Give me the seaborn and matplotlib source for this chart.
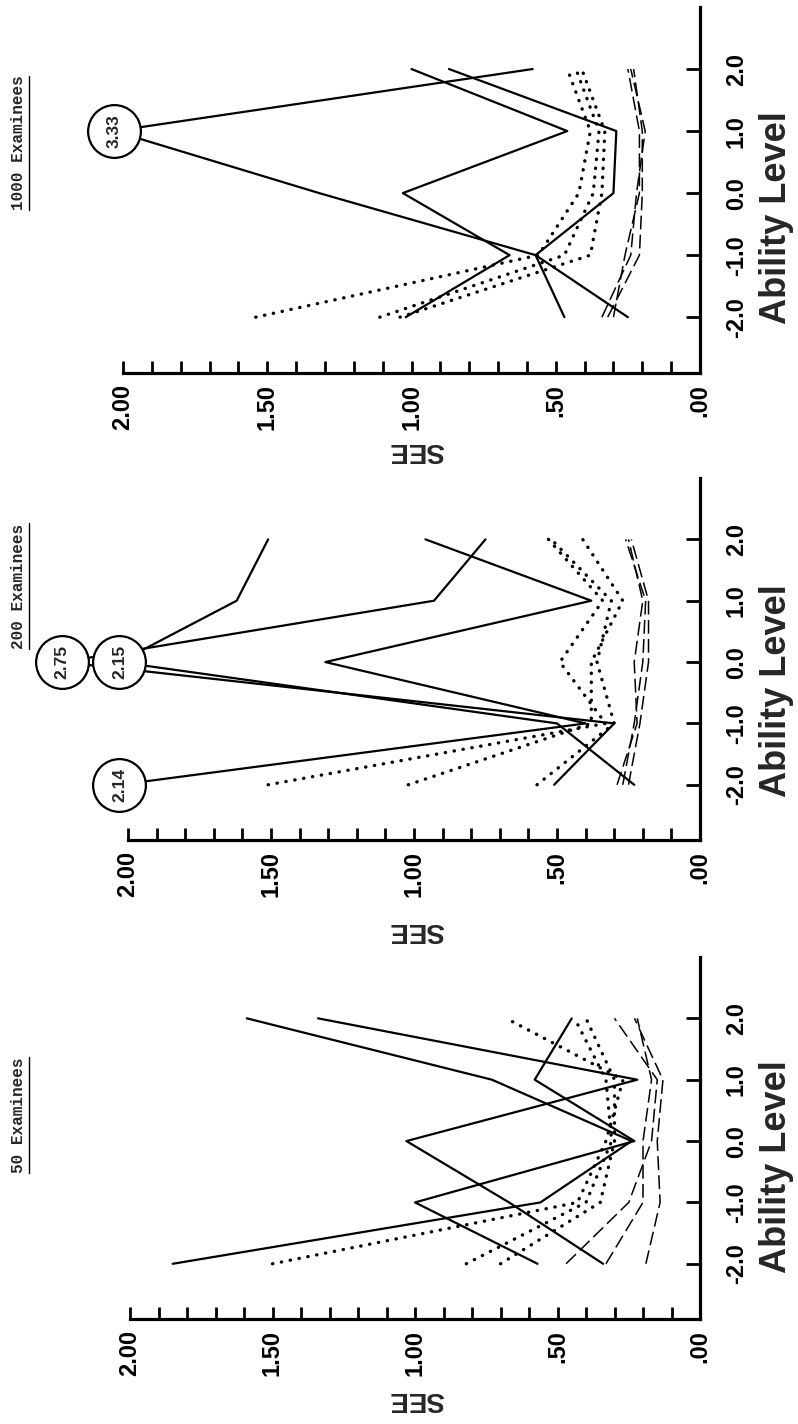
import numpy as np
import pandas as pd
import matplotlib
matplotlib.use("Agg")
import matplotlib.pyplot as plt
import seaborn as sns
from matplotlib.ticker import FixedLocator, MultipleLocator, NullLocator
from matplotlib.lines import Line2D

# ---------------- data ----------------
ABILITY = [-2.0, -1.0, 0.0, 1.0, 2.0]
ABILITY_LABELS = ["-2.0", "-1.0", "0.0", "1.0", "2.0"]
SEE_TICKS = [0.0, 0.5, 1.0, 1.5, 2.0]
SEE_LABELS = [".00", ".50", "1.00", "1.50", "2.00"]

# 1000 examinees
T_SOLID_1 = [1.02, 0.66, 1.03, 0.46, 1.00]
T_SOLID_2 = [0.47, 0.57, 1.32, 3.33, 0.58]
T_SOLID_3 = [0.25, 0.57, 0.30, 0.29, 0.87]
T_DOT_1 = [1.54, 0.56, 0.42, 0.38, 0.46]
T_DOT_2 = [1.11, 0.47, 0.37, 0.35, 0.43]
T_DOT_3 = [1.04, 0.38, 0.34, 0.33, 0.41]
T_DASH_1 = [0.34, 0.24, 0.22, 0.19, 0.24]
T_DASH_2 = [0.32, 0.21, 0.20, 0.20, 0.23]
T_DASH_3 = [0.30, 0.26, 0.21, 0.21, 0.25]

# 200 examinees
M_SOLID_1 = [0.51, 0.30, 2.75, 0.93, 0.75]
M_SOLID_2 = [0.23, 0.50, 2.15, 1.62, 1.51]
M_SOLID_3 = [2.14, 0.40, 1.31, 0.38, 0.96]
M_DOT_1 = [1.51, 0.33, 0.49, 0.34, 0.53]
M_DOT_2 = [1.02, 0.38, 0.38, 0.27, 0.41]
M_DOT_3 = [0.57, 0.30, 0.36, 0.31, 0.52]
M_DASH_1 = [0.29, 0.22, 0.23, 0.20, 0.25]
M_DASH_2 = [0.25, 0.21, 0.18, 0.18, 0.24]
M_DASH_3 = [0.27, 0.23, 0.20, 0.19, 0.26]

# 50 examinees
B_SOLID_1 = [1.85, 0.56, 0.24, 0.73, 1.59]
B_SOLID_2 = [0.34, 0.67, 1.03, 0.22, 1.34]
B_SOLID_3 = [0.57, 1.00, 0.23, 0.58, 0.45]
B_DOT_1 = [1.50, 0.43, 0.33, 0.27, 0.68]
B_DOT_2 = [0.82, 0.40, 0.31, 0.33, 0.44]
B_DOT_3 = [0.70, 0.35, 0.30, 0.30, 0.40]
B_DASH_1 = [0.47, 0.25, 0.17, 0.15, 0.30]
B_DASH_2 = [0.19, 0.14, 0.15, 0.13, 0.23]
B_DASH_3 = [0.33, 0.20, 0.20, 0.17, 0.22]

# ---------------- style ----------------
sns.set_style("white")
plt.rcParams["font.family"] = ["Liberation Sans", "DejaVu Sans"]

W, H = 798, 1424
fig = plt.figure(figsize=(W / 100, H / 100), dpi=100)
fig.patch.set_facecolor("white")

STYLES = {
    "solid": dict(linestyle="-", lw=1.6),
    "dot": dict(linestyle=(0, (0.1, 2.6)), lw=2.4, dash_capstyle="round"),
    "dash": dict(linestyle=(0, (9, 3.5)), lw=1.1),
}

panels = [
    dict(title="1000 Examinees", box=(123, 700, 7, 373), title_y=143, abil_y=218, see_y=450,
         series=[(T_SOLID_1, "solid"), (T_SOLID_2, "solid"), (T_SOLID_3, "solid"),
                 (T_DOT_1, "dot"), (T_DOT_2, "dot"), (T_DOT_3, "dot"),
                 (T_DASH_1, "dash"), (T_DASH_2, "dash"), (T_DASH_3, "dash")]),
    dict(title="200 Examinees", box=(128, 700, 478, 840), title_y=586, abil_y=691, see_y=930,
         series=[(M_SOLID_1, "solid"), (M_SOLID_2, "solid"), (M_SOLID_3, "solid"),
                 (M_DOT_1, "dot"), (M_DOT_2, "dot"), (M_DOT_3, "dot"),
                 (M_DASH_1, "dash"), (M_DASH_2, "dash"), (M_DASH_3, "dash")]),
    dict(title="50 Examinees", box=(130, 700, 957, 1319), title_y=1115, abil_y=1167, see_y=1399,
         series=[(B_SOLID_1, "solid"), (B_SOLID_2, "solid"), (B_SOLID_3, "solid"),
                 (B_DOT_1, "dot"), (B_DOT_2, "dot"), (B_DOT_3, "dot"),
                 (B_DASH_1, "dash"), (B_DASH_2, "dash"), (B_DASH_3, "dash")]),
]

OFF_START = 2.03   # where off-scale values are drawn (circled)
OFF_STEP = 0.20

title_texts = []
for p in panels:
    l, r, t, b = p["box"]
    ax = fig.add_axes([l / W, 1 - b / H, (r - l) / W, (b - t) / H])
    ax.set_facecolor("none")

    # positions for off-scale values
    off = {}
    for vals, _ in p["series"]:
        for a, v in zip(ABILITY, vals):
            if v > 2.0:
                off.setdefault(a, []).append(v)
    off_pos = {}
    for a, vs in off.items():
        for i, v in enumerate(sorted(vs)):
            off_pos[(a, v)] = OFF_START + i * OFF_STEP

    for vals, kind in p["series"]:
        plotted = [off_pos[(a, v)] if v > 2.0 else v for a, v in zip(ABILITY, vals)]
        df = pd.DataFrame({"SEE": plotted, "Ability": ABILITY})
        sns.lineplot(data=df, x="SEE", y="Ability", orient="y", sort=False,
                     estimator=None, color="black", ax=ax, legend=False)
        ln = ax.lines[-1]
        st = STYLES[kind]
        ln.set_linestyle(st["linestyle"])
        ln.set_linewidth(st["lw"])
        if "dash_capstyle" in st:
            ln.set_dash_capstyle(st["dash_capstyle"])
        ln.set_clip_on(False)
        ln.set_zorder(3)

    for (a, v), x in off_pos.items():
        ax.plot([x], [a], marker="o", ms=38, mfc="white", mec="black", mew=1.6,
                clip_on=False, zorder=5, ls="none")
        ax.text(x, a, f"{v:.2f}", rotation=90, ha="center", va="center",
                fontsize=12.5, fontweight="bold", zorder=6, clip_on=False)

    ax.set_xlim(2.0, 0.0)
    ax.set_ylim(-2.9, 3.0)
    ax.set_xlabel("")
    ax.set_ylabel("")

    for s in ["top", "left"]:
        ax.spines[s].set_visible(False)
    for s in ["right", "bottom"]:
        ax.spines[s].set_linewidth(2.3)
        ax.spines[s].set_color("black")

    ax.xaxis.set_major_locator(FixedLocator(SEE_TICKS))
    ax.xaxis.set_minor_locator(MultipleLocator(0.1))
    ax.set_xticklabels(SEE_LABELS, rotation=90, fontsize=17, fontweight="bold")
    ax.tick_params(axis="x", which="both", direction="in", length=9, width=2,
                   pad=8, bottom=True, top=False, colors="black")

    ax.yaxis.tick_right()
    ax.yaxis.set_minor_locator(NullLocator())
    ax.set_yticks(ABILITY)
    ax.set_yticklabels(ABILITY_LABELS, rotation=90, fontsize=17, fontweight="bold",
                       va="center")
    ax.tick_params(axis="y", which="both", direction="in", length=10, width=2,
                   pad=18, right=True, left=False, colors="black")
    ax.grid(False)

    fig.text(777 / W, 1 - p["abil_y"] / H, "Ability Level", rotation=90,
             ha="center", va="center", fontsize=26, fontweight="bold")
    fig.text(416 / W, 1 - p["see_y"] / H, "SEE", rotation=180,
             ha="center", va="center", fontsize=20, fontweight="bold")
    tt = fig.text(19 / W, 1 - p["title_y"] / H, p["title"], rotation=90,
                  ha="center", va="center", fontsize=11.5, fontweight="bold",
                  family=["Liberation Mono", "DejaVu Sans Mono"])
    title_texts.append(tt)

fig.canvas.draw()
for tt in title_texts:
    bb = tt.get_window_extent()
    xu = (bb.x1 + 2) / W
    fig.add_artist(Line2D([xu, xu], [bb.y0 / H, bb.y1 / H], transform=fig.transFigure,
                          color="black", lw=1.0))

fig.savefig("out.png", dpi=100, facecolor="white")
